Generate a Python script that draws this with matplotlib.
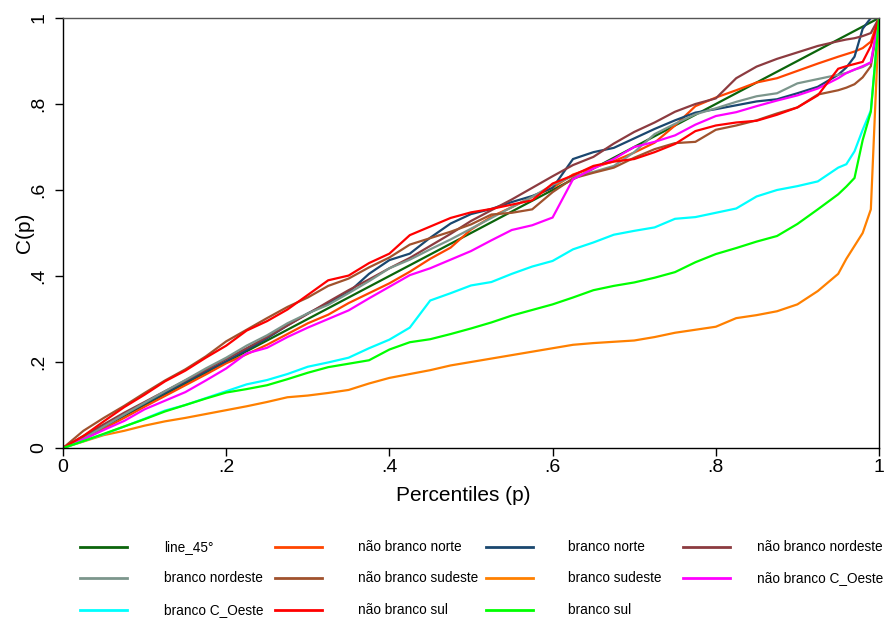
import matplotlib
matplotlib.use("Agg")
import matplotlib.pyplot as plt
from matplotlib.lines import Line2D

# Percentiles where every concentration curve is read
p = [0, .025, .05, .075, .1, .125, .15, .175, .2, .225,
     .25, .275, .3, .325, .35, .375, .4, .425, .45, .475,
     .5, .525, .55, .575, .6, .625, .65, .675, .7, .725,
     .75, .775, .8, .825, .85, .875, .9, .925, .95, .96,
     .97, .98, .99, 1]

# 45 degree line (perfect equality)
p_45 = [0, 1]
line_45 = [0, 1]

nao_branco_norte = [0, .02, .045, .07, .096, .121, .146, .171, .197, .218,
                    .24, .265, .29, .31, .337, .36, .383, .41, .44, .466,
                    .508, .538, .56, .584, .605, .636, .652, .667, .687, .71,
                    .75, .795, .815, .832, .85, .86, .877, .894, .91, .916,
                    .922, .93, .945, 1]

branco_norte = [0, .022, .05, .077, .103, .128, .153, .178, .202, .228,
                .255, .285, .313, .337, .362, .405, .437, .452, .489, .522,
                .544, .556, .572, .586, .605, .672, .688, .698, .72, .742,
                .762, .78, .788, .797, .806, .811, .825, .84, .868, .885,
                .91, .975, 1.0, 1]

nao_branco_nordeste = [0, .028, .055, .082, .107, .132, .157, .182, .207, .232,
                       .258, .285, .312, .34, .367, .392, .418, .442, .47, .498,
                       .528, .553, .578, .605, .632, .658, .677, .708, .735, .757,
                       .782, .8, .813, .86, .887, .905, .92, .935, .946, .95,
                       .953, .958, .965, 1]

branco_nordeste = [0, .022, .05, .078, .105, .132, .158, .185, .21, .238,
                   .262, .29, .313, .333, .36, .388, .418, .438, .462, .485,
                   .51, .535, .56, .584, .612, .632, .642, .656, .688, .73,
                   .754, .776, .79, .805, .818, .825, .848, .858, .868, .872,
                   .88, .886, .896, 1]

nao_branco_sudeste = [0, .04, .07, .098, .128, .157, .183, .213, .248, .275,
                      .302, .328, .35, .377, .394, .42, .443, .473, .488, .503,
                      .52, .543, .547, .555, .595, .627, .64, .652, .675, .695,
                      .709, .712, .74, .75, .762, .778, .792, .822, .832, .838,
                      .846, .862, .888, 1]

branco_sudeste = [0, .015, .03, .04, .052, .062, .07, .079, .088, .097,
                  .107, .118, .122, .128, .135, .15, .163, .172, .181, .192,
                  .2, .208, .216, .224, .232, .24, .244, .247, .25, .258,
                  .268, .275, .282, .302, .309, .318, .334, .365, .405, .44,
                  .47, .5, .555, 1]

nao_branco_c_oeste = [0, .02, .042, .063, .09, .11, .13, .157, .185, .22,
                      .233, .258, .28, .3, .32, .348, .375, .402, .418, .438,
                      .458, .483, .507, .518, .536, .625, .65, .672, .7, .712,
                      .727, .752, .772, .781, .795, .808, .82, .836, .86, .872,
                      .88, .888, .897, 1]

branco_c_oeste = [0, .016, .032, .05, .068, .087, .1, .116, .132, .148,
                  .158, .172, .189, .199, .21, .232, .252, .28, .343, .36,
                  .378, .386, .405, .422, .435, .462, .478, .496, .505, .513,
                  .533, .537, .547, .557, .585, .6, .609, .62, .652, .66,
                  .69, .74, .785, 1]

nao_branco_sul = [0, .028, .062, .095, .124, .155, .18, .21, .238, .273,
                  .295, .322, .356, .39, .401, .43, .452, .495, .515, .535,
                  .548, .556, .566, .576, .615, .634, .656, .666, .672, .688,
                  .707, .737, .75, .757, .761, .775, .792, .82, .882, .888,
                  .893, .898, .935, 1]

branco_sul = [0, .016, .033, .05, .067, .085, .1, .115, .129, .137,
              .146, .16, .175, .188, .196, .204, .229, .246, .253, .265,
              .278, .292, .308, .321, .334, .35, .367, .377, .385, .396,
              .409, .432, .451, .465, .48, .493, .521, .555, .59, .608,
              .628, .716, .782, 1]

labels = ["line_45°", "não branco norte", "branco norte", "não branco nordeste",
          "branco nordeste", "não branco sudeste", "branco sudeste", "não branco C_Oeste",
          "branco C_Oeste", "não branco sul", "branco sul"]
colors = ["#0b650b", "#ff4500", "#1a476f", "#8c3b40",
          "#7c968c", "#a0522d", "#ff8000", "#ff00ff",
          "#00ffff", "#ff0000", "#00ff00"]
series = [nao_branco_norte, branco_norte, nao_branco_nordeste, branco_nordeste,
          nao_branco_sudeste, branco_sudeste, nao_branco_c_oeste, branco_c_oeste,
          nao_branco_sul, branco_sul]

plt.rcParams["font.family"] = ["Liberation Sans", "DejaVu Sans"]

W, H = 889, 622
fig = plt.figure(figsize=(W / 100, H / 100), dpi=100, facecolor="white")
ax = fig.add_axes([63 / W, 1 - 448 / H, 816 / W, 430 / H])

# Draw the curves in order so the later ones end up on top
ax.plot(p_45, line_45, color=colors[0], lw=1.6, solid_capstyle="butt")
for values, color in zip(series, colors[1:]):
    ax.plot(p, values, color=color, lw=1.6, solid_joinstyle="miter")

ax.set_xlim(0, 1)
ax.set_ylim(0, 1)

ticks = [0, .2, .4, .6, .8, 1]
tick_labels = ["0", ".2", ".4", ".6", ".8", "1"]
ax.set_xticks(ticks)
ax.set_xticklabels(tick_labels, fontsize=14)
ax.set_yticks(ticks)
ax.set_yticklabels(tick_labels, fontsize=14, rotation=90, va="center")
ax.tick_params(axis="both", direction="out", length=6, width=1, color="black")
ax.tick_params(axis="x", pad=2)
ax.tick_params(axis="y", pad=5)

for side in ["left", "bottom", "right"]:
    ax.spines[side].set_color("black")
    ax.spines[side].set_linewidth(1)
ax.spines["top"].set_color("#555555")
ax.spines["top"].set_linewidth(1)

ax.set_xlabel("Percentiles (p)", fontsize=15)
ax.xaxis.set_label_coords(0.49, -0.088)
ax.xaxis.label.set_va("top")
ax.set_ylabel("C(p)", fontsize=15)
ax.yaxis.set_label_coords(-0.036, 0.5)

# Legend below the plot: 4 columns, 3 rows
line_x = [80, 275, 486, 683]
text_x = [164, 358, 568, 757]
row_y = [547, 578, 610]
for i, (label, color) in enumerate(zip(labels, colors)):
    col, row = i % 4, i // 4
    y = 1 - row_y[row] / H
    fig.add_artist(Line2D([line_x[col] / W, (line_x[col] + 47) / W], [y, y],
                          transform=fig.transFigure, color=color, lw=2))
    fig.text(text_x[col] / W, y, label, fontsize=9.8, va="center", ha="left")

fig.savefig("out.png", dpi=100, facecolor="white")
